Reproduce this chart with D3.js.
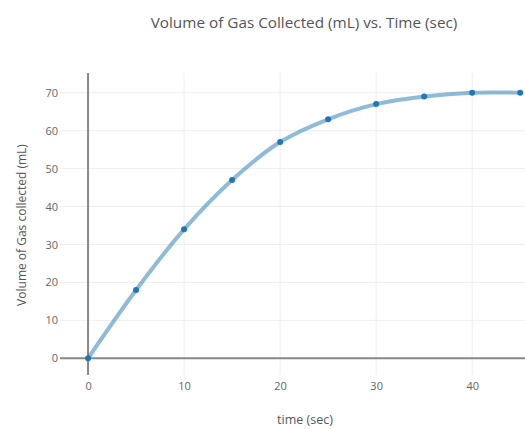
<!DOCTYPE html>
<html><head><meta charset="utf-8">
<script src="https://cdn.jsdelivr.net/npm/d3@7"></script>
<style>body{margin:0;background:#fff}svg{display:block}text{font-family:"Open Sans",sans-serif}</style>
</head><body><svg id="c" width="525" height="429"></svg>
<script>
const times = [0, 5, 10, 15, 20, 25, 30, 35, 40, 45];
const volumes = [0, 18, 34, 47, 57, 63, 67, 69, 70, 70];
const xTicks = [0, 10, 20, 30, 40];
const yTicks = [0, 10, 20, 30, 40, 50, 60, 70];
const titleText = "Volume of Gas Collected (mL) vs. Time (sec)";
const xTitle = "time (sec)";
const yTitle = "Volume of Gas collected (mL)";

const svg = d3.select("#c");
const W = 525, H = 429;
const m = {l: 60, r: 0, t: 73, b: 54};
const x = d3.scaleLinear().domain([-2.92, 45.5]).range([m.l, W - m.r]);
const y = d3.scaleLinear().domain([-4.4, 75.2]).range([H - m.b, m.t]);

const g = svg.append("g");
// grid
g.selectAll(".gx").data(xTicks.filter(d => d !== 0)).join("line")
  .attr("x1", d => x(d)).attr("x2", d => x(d)).attr("y1", y.range()[0]).attr("y2", y.range()[1])
  .attr("stroke", "#eee").attr("stroke-width", 1);
g.selectAll(".gy").data(yTicks.filter(d => d !== 0)).join("line")
  .attr("y1", d => y(d)).attr("y2", d => y(d)).attr("x1", x.range()[0]).attr("x2", x.range()[1])
  .attr("stroke", "#eee").attr("stroke-width", 1);
// zero lines
g.append("line").attr("x1", x.range()[0]).attr("x2", x.range()[1]).attr("y1", y(0)).attr("y2", y(0))
  .attr("stroke", "#888").attr("stroke-width", 2);
g.append("line").attr("x1", x(0)).attr("x2", x(0)).attr("y1", y.range()[0]).attr("y2", y.range()[1])
  .attr("stroke", "#888").attr("stroke-width", 2);

// axes
const xa = svg.append("g").attr("transform", `translate(0,${H - m.b})`)
  .call(d3.axisBottom(x).tickValues(xTicks).tickSize(0).tickPadding(7));
const ya = svg.append("g").attr("transform", `translate(${m.l},0)`)
  .call(d3.axisLeft(y).tickValues(yTicks).tickSize(0).tickPadding(2));
[xa, ya].forEach(a => {
  a.select(".domain").remove();
  a.selectAll("text").attr("fill", "#666").style("font-size", "11px").style("font-family", '"Open Sans",sans-serif');
});
xa.selectAll("text").attr("dy", "0.71em");

// line
const data = times.map((t, i) => ({t, v: volumes[i]}));
const line = d3.line().x(d => x(d.t)).y(d => y(d.v)).curve(d3.curveCatmullRom.alpha(0.5));
svg.append("path").datum(data).attr("d", line).attr("fill", "none")
  .attr("stroke", "rgba(31,119,180,0.5)").attr("stroke-width", 4).attr("stroke-linejoin", "round");
svg.selectAll(".pt").data(data).join("circle")
  .attr("cx", d => x(d.t)).attr("cy", d => y(d.v)).attr("r", 3).attr("fill", "#1f77b4");

// titles
svg.append("text").attr("x", 304).attr("y", 28).attr("text-anchor", "middle")
  .attr("fill", "#555").style("font-size", "15.3px").text(titleText);
svg.append("text").attr("x", 305).attr("y", 424).attr("text-anchor", "middle")
  .attr("fill", "#555").style("font-size", "12.5px").text(xTitle);
svg.append("text").attr("transform", `translate(26,225) rotate(-90)`).attr("text-anchor", "middle")
  .attr("fill", "#555").style("font-size", "12px").text(yTitle);
</script></body></html>
